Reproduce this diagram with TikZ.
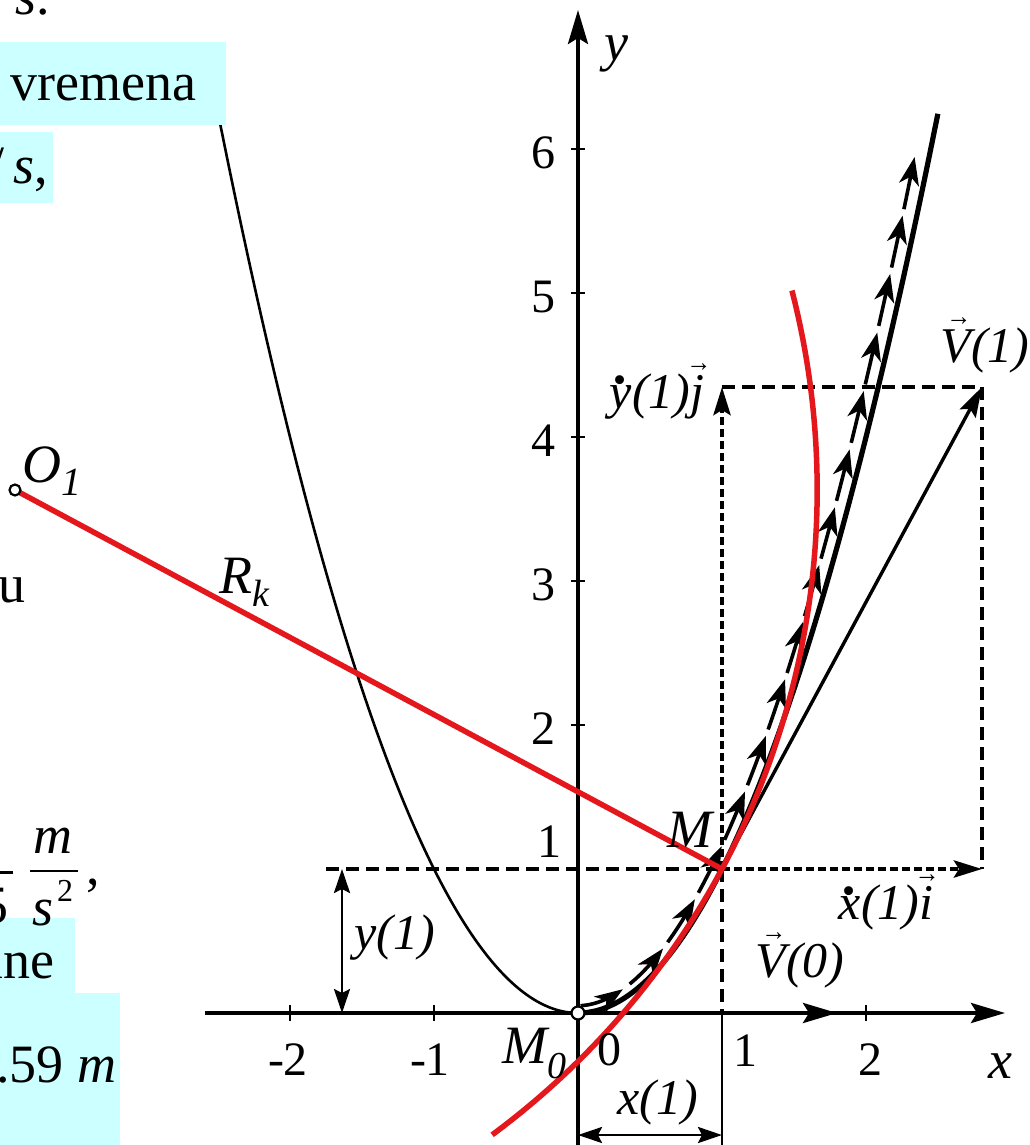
\documentclass[tikz,border=0pt]{standalone}
\usepackage{fontspec}
\setmainfont{Liberation Serif}
\usepackage{graphicx}
\usetikzlibrary{arrows.meta}
\definecolor{redk}{RGB}{228,24,28}
\definecolor{cyanbox}{RGB}{204,255,255}
\newcommand\vv[2][0em]{\ooalign{#2\cr\hidewidth\kern#1\raisebox{0.74em}{\scalebox{0.5}[0.55]{→}}\hidewidth\cr}}
\newcommand\dt[2][0em]{\ooalign{#2\cr\hidewidth\kern#1\raisebox{0.5em}{\scalebox{1.5}{.}}\hidewidth\cr}}
\begin{document}
\begin{tikzpicture}[x=1pt,y=-1pt,
  axis/.style={line width=3.8pt,-{Stealth[length=34pt,width=20pt,inset=6pt]}},
  tickline/.style={line width=2.8pt},
  guide/.style={line width=3.2pt,dash pattern=on 13pt off 7pt},
  comp/.style={line width=4.6pt,dash pattern=on 8pt off 4pt,-{Stealth[length=28pt,width=17pt,inset=5pt]}},
  vel/.style={line width=3.4pt,-{Stealth[length=30pt,width=18pt,inset=5pt]}},
  dim/.style={line width=2.8pt,{Stealth[length=24pt,width=16pt,inset=4pt]}-{Stealth[length=24pt,width=16pt,inset=4pt]}},
  chainhead/.style={line width=3.6pt,-{Stealth[length=28pt,width=20pt,inset=8pt]}},
  redline/.style={draw=redk,line width=5.5pt},
  lbl/.style={font=\fontsize{50}{56}\selectfont\itshape,inner sep=0pt},
  plbl/.style={font=\fontsize{54}{60}\selectfont\itshape,inner sep=0pt},
  num/.style={font=\fontsize{48}{56}\selectfont,inner sep=0pt},
  slide/.style={font=\fontsize{54}{60}\selectfont,inner sep=0pt},
  dotpt/.style={circle,draw,fill=white,line width=2.2pt,inner sep=0pt,minimum size=#1},
  box/.style={fill=cyanbox,draw=none}
]
\useasboundingbox (0,0) rectangle (1029,1145);
\clip (0,0) rectangle (1029,1145);
\fill[white] (0,0) rectangle (1029,1145);

% key points
\coordinate (O) at (578,1013);
\coordinate (M) at (722,869);
\coordinate (O1) at (15,490);
\coordinate (xa0) at (205,1013);
\coordinate (xa1) at (1005,1013);
\coordinate (ya0) at (578,1145);
\coordinate (ya1) at (578,10);
\coordinate (V0) at (837,1013);
\coordinate (V1) at (982,387);
\coordinate (Xd) at (982,869);
\coordinate (Yd) at (722,387);
\coordinate (G0) at (326,869);
\coordinate (A1) at (722,1013);
\coordinate (A1b) at (722,1145);
\coordinate (yd0) at (342,869);
\coordinate (yd1) at (342,1013);
\coordinate (xd0) at (578,1135);
\coordinate (xd1) at (722,1135);

% ticks
\foreach \px in {290,434,866} \draw[tickline] (\px,1005) -- (\px,1021);
\foreach \py in {149,293,437,581,725} \draw[tickline] (571,\py) -- (585,\py);

% axes
\draw[axis] (xa0) -- (xa1);
\draw[axis] (ya0) -- (ya1);

% guides
\draw[guide] (G0) -- (M);
\draw[guide] (M) -- (A1);
\draw[tickline] (A1) -- (A1b);
\draw[guide] (Yd) -- (V1) -- (Xd);

% trajectory and chain of velocity arrows
\begin{scope}[shift={(578,1013)},x=144pt,y=144pt,
  declare function={dd(\t)=0.05+0.02*\t; nn(\t)=sqrt(1+4*\t*\t);
    cxx(\t)=\t-2*\t*dd(\t)/nn(\t); cyy(\t)=\t*\t+dd(\t)/nn(\t);}]
  \draw[line width=2.6pt] plot[domain=-2.5:0,samples=80,smooth] (\x,{\x*\x});
  \draw[line width=5.2pt] plot[domain=0:2.5,samples=80,smooth] (\x,{\x*\x});
  \foreach \t in {0.344,0.640,0.870,1.062,1.229,1.378,1.514,1.640,1.757,1.868,1.973,2.073,2.169,2.261,2.349,2.434}{
    \pgfmathsetmacro\ta{\t-0.361/sqrt(1+4*(\t-0.1)^2)}
    \draw[chainhead] plot[domain=\ta:\t,samples=6,smooth,variable=\s] ({cxx(\s)},{cyy(\s)});
  }
\end{scope}

% velocity components
\draw[comp] (M) -- (Xd);
\draw[comp] (M) -- (Yd);
\draw[vel] (M) -- (V1);
\draw[axis] (O) -- (V0);

% dimensions
\draw[dim] (yd0) -- (yd1);
\draw[dim] (xd0) -- (xd1);

% curvature
\draw[redline] (O1) -- (M);
\begin{scope}[shift={(578,1013)},x=144pt,y=144pt]
  \draw[redline] (O1) ++(-53.5:5.5707) arc[start angle=-53.5,end angle=14.4,radius=5.5707];
\end{scope}

% points
\node[dotpt=13pt] (Op) at (O) {};
\node[dotpt=11pt] (O1p) at (O1) {};

% tick labels
\node[num] (t6) at (543,153) {6};
\node[num] (t5) at (543,297) {5};
\node[num] (t4) at (543,441) {4};
\node[num] (t3) at (543,585) {3};
\node[num] (t2) at (543,729) {2};
\node[num] (t1) at (549,842) {1};
\node[num] (tm2) at (288,1060) {-2};
\node[num] (tm1) at (430,1060) {-1};
\node[num] (t0) at (609,1050) {0};
\node[num] (tx1) at (745,1051) {1};
\node[num] (tx2) at (870,1060) {2};

% axis labels
\node[plbl] (ylab) at (616,54) {y};
\node[plbl] (xlab) at (1000,1066) {x};

% labels
\node[lbl] (lV1) at (985,350) {\vv[0.12em]{V}(1)};
\node[lbl] (lyd) at (657,396) {\dt[0.05em]{y}(1)\vv[0.06em]{j}};
\node[lbl] (lxd) at (886,907) {\dt[0.05em]{x}(1)\vv[0.03em]{i}};
\node[lbl] (lV0) at (800,965) {\vv[0.12em]{V}(0)};
\node[lbl] (lx1) at (658,1102) {x(1)};
\node[lbl] (ly1) at (395,938) {y(1)};
\node[plbl] (lM) at (690,830) {M};
\node[plbl,anchor=base west] (lM0) at (502,1063) {M\raisebox{-0.28em}{\fontsize{38}{40}\selectfont 0}};
\node[plbl,anchor=base west] (lO1) at (22,482) {O\raisebox{-0.25em}{\fontsize{40}{42}\selectfont 1}};
\node[plbl,anchor=base west] (lRk) at (219,593) {R\raisebox{-0.25em}{\fontsize{38}{40}\selectfont k}};

% slide fragments on the left
\fill[box] (0,42) rectangle (226,125);
\fill[box] (0,132) rectangle (53,203);
\fill[box] (0,918) rectangle (75,993);
\fill[box] (0,993) rectangle (120,1145);
\node[slide,anchor=base west] (s1) at (15,15) {\textit{s}.};
\node[slide,anchor=base west] (s2) at (10,101) {vremena};
\node[slide,anchor=base east] (s3) at (48,183) {/\,\textit{s},};
\node[slide,anchor=base east] (s4) at (26,602) {u};
\node[slide,anchor=base] (fm) at (53,853) {\textit{m}};
\draw[line width=2.4pt] (30,871) -- (78,871);
\draw[line width=3pt] (0,872) -- (13,872);
\node[slide,anchor=base west] (fs) at (32,925) {\textit{s}};
\node[font=\fontsize{32}{36}\selectfont,inner sep=0pt,anchor=base west] (f2) at (57,901) {2};
\node[slide,anchor=base west] (fc) at (86,884) {,};
\node[slide,anchor=base east] (f5) at (9,923) {5};
\node[slide,anchor=base east] (s5) at (55,978) {ine};
\node[slide,anchor=base west] (s6) at (-4,1082) {.59 \textit{m}};
\end{tikzpicture}
\end{document}
